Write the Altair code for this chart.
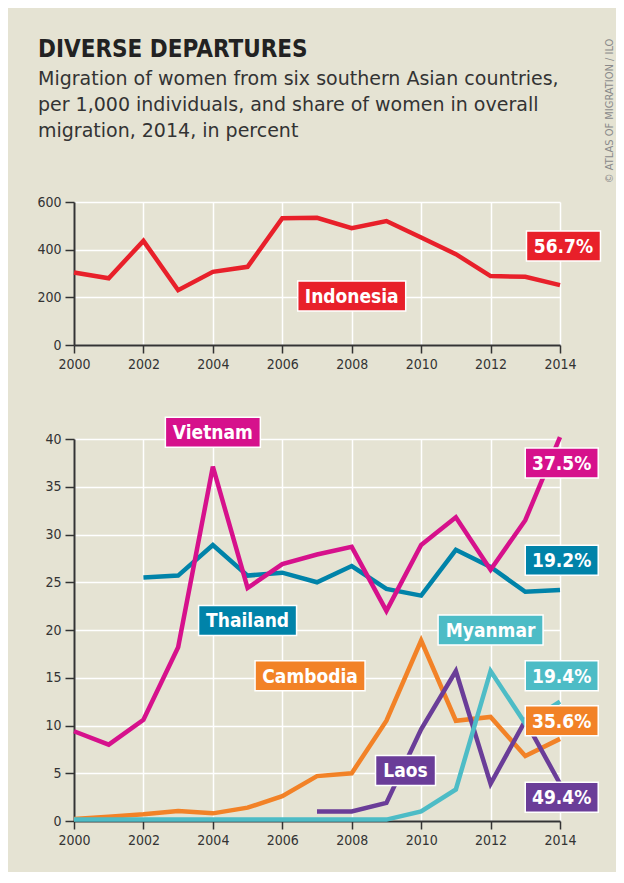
import altair as alt
import pandas as pd

# ---------------- data ----------------
years = [2000, 2001, 2002, 2003, 2004, 2005, 2006, 2007, 2008, 2009, 2010, 2011, 2012, 2013, 2014]
indonesia = [304, 280, 437, 230, 307, 328, 532, 534, 490, 520, 451, 381, 289, 286, 251]

vietnam = [9.4, 8.0, 10.6, 18.2, 37.1, 24.4, 26.9, 27.9, 28.7, 22.0, 28.9, 31.8, 26.3, 31.5, 40.2]
thailand_years = [2002, 2003, 2004, 2005, 2006, 2007, 2008, 2009, 2010, 2011, 2012, 2013, 2014]
thailand = [25.5, 25.7, 28.9, 25.7, 26.0, 25.0, 26.7, 24.3, 23.6, 28.4, 26.6, 24.0, 24.2]
cambodia = [0.2, 0.45, 0.7, 1.05, 0.8, 1.4, 2.6, 4.7, 5.0, 10.5, 18.9, 10.5, 10.9, 6.8, 8.6]
laos_years = [2007, 2008, 2009, 2010, 2011, 2012, 2013, 2014]
laos = [1.0, 1.0, 1.9, 9.6, 15.7, 3.9, 10.5, 3.9]
myanmar = [0.15, 0.15, 0.15, 0.15, 0.15, 0.15, 0.15, 0.15, 0.15, 0.15, 1.0, 3.3, 15.7, 10.2, 12.5]

top_ticks = [0, 200, 400, 600]
bottom_ticks = [0, 5, 10, 15, 20, 25, 30, 35, 40]

title_text = "DIVERSE DEPARTURES"
subtitle_lines = [
    "Migration of women from six southern Asian countries,",
    "per 1,000 individuals, and share of women in overall",
    "migration, 2014, in percent",
]
credit_text = "© ATLAS OF MIGRATION / ILO"

# label annotations: text, centre year, centre value, colour, box width (px)
top_labels = [
    ("Indonesia", 2008.0, 206, "#E8202A", 108),
    ("56.7%", 2014.1, 415, "#E8202A", 74),
]
bottom_labels = [
    ("Vietnam", 2004.0, 40.7, "#D6118C", 95),
    ("Thailand", 2005.0, 21.0, "#0083A9", 98),
    ("Myanmar", 2012.0, 20.0, "#4DBCC6", 105),
    ("Cambodia", 2006.8, 15.2, "#F28227", 110),
    ("Laos", 2009.55, 5.3, "#6A3D98", 60),
    ("37.5%", 2014.05, 37.5, "#D6118C", 73),
    ("19.2%", 2014.05, 27.3, "#0083A9", 73),
    ("19.4%", 2014.05, 15.2, "#4DBCC6", 73),
    ("35.6%", 2014.05, 10.5, "#F28227", 73),
    ("49.4%", 2014.05, 2.5, "#6A3D98", 73),
]

# ---------------- styling ----------------
W = 486
H_TOP = 143
H_BOT = 382
BOX_H = 30
FONT = "'DejaVu Sans Condensed', 'Liberation Sans Narrow', 'Roboto', sans-serif"
SUB_FONT = "'DejaVu Sans', 'Roboto', sans-serif"
BG = "#E5E3D3"
AX = "#333333"
LW = 4.5

x_scale = alt.Scale(domain=[2000, 2014], nice=False, zero=False)


def x_axis():
    return alt.Axis(
        values=years, format="d", title=None,
        labelExpr="datum.value % 2 == 0 ? datum.label : ''",
        tickSize=8, tickWidth=1.5, tickColor=AX,
        domainColor=AX, domainWidth=2,
        grid=True, gridColor="white", gridWidth=1.5,
        labelFont=FONT, labelFontSize=14, labelColor=AX, labelPadding=4,
        labelFlush=False,
    )


def y_axis(vals):
    return alt.Axis(
        values=vals, title=None, tickSize=9, tickWidth=1.5, tickColor=AX,
        domainColor=AX, domainWidth=2,
        grid=True, gridColor="white", gridWidth=1.5,
        labelFont=FONT, labelFontSize=14, labelColor=AX, labelPadding=4,
    )


def series_line(xs, ys, color, y_scale, ticks):
    df = pd.DataFrame({"year": xs, "value": ys})
    return alt.Chart(df).mark_line(
        color=color, strokeWidth=LW, strokeJoin="miter", strokeCap="butt"
    ).encode(
        x=alt.X("year:Q", scale=x_scale, axis=x_axis()),
        y=alt.Y("value:Q", scale=y_scale, axis=y_axis(ticks)),
    )


def label_layers(labels, y_scale, height, ymax):
    px_per_year = W / 14.0
    px_per_unit = height / ymax
    rows = []
    for t, cx, cy, col, w in labels:
        hw = (w / 2.0) / px_per_year
        hh = (BOX_H / 2.0) / px_per_unit
        rows.append({"t": t, "cx": cx, "cy": cy, "x1": cx - hw, "x2": cx + hw,
                     "y1": cy - hh, "y2": cy + hh, "col": col})
    df = pd.DataFrame(rows)
    boxes = alt.Chart(df).mark_rect(stroke="white", strokeWidth=1.5).encode(
        x=alt.X("x1:Q", scale=x_scale), x2="x2:Q",
        y=alt.Y("y1:Q", scale=y_scale), y2="y2:Q",
        color=alt.Color("col:N", scale=None),
    )
    texts = alt.Chart(df).mark_text(
        font=FONT, fontSize=19, fontWeight="bold", color="white",
        align="center", baseline="middle", dy=1,
    ).encode(
        x=alt.X("cx:Q", scale=x_scale), y=alt.Y("cy:Q", scale=y_scale), text="t:N"
    )
    return [boxes, texts]


def header_text(text, y, size, weight, color, font):
    return alt.Chart(pd.DataFrame({"t": [text]})).mark_text(
        font=font, fontSize=size, fontWeight=weight, color=color,
        align="left", baseline="alphabetic",
    ).encode(x=alt.value(-36), y=alt.value(y), text="t:N")


# ---------------- top panel ----------------
y_top = alt.Scale(domain=[0, 600], nice=False, zero=True)
top_line = series_line(years, indonesia, "#E8202A", y_top, top_ticks)

hdr = [header_text(title_text, -145, 24, "bold", "#222222", FONT)]
for ln, yy in zip(subtitle_lines, [-117, -91, -65]):
    hdr.append(header_text(ln, yy, 19, "normal", "#333333", SUB_FONT))

credit = alt.Chart(pd.DataFrame({"t": [credit_text]})).mark_text(
    font=FONT, fontSize=11, color="#8A8A8A", angle=270, align="center", baseline="middle"
).encode(x=alt.value(536), y=alt.value(-91), text="t:N")

top = alt.layer(
    top_line, *label_layers(top_labels, y_top, H_TOP, 600), *hdr, credit
).properties(width=W, height=H_TOP)

# ---------------- bottom panel ----------------
y_bot = alt.Scale(domain=[0, 40], nice=False, zero=True)
bot_layers = [
    series_line(thailand_years, thailand, "#0083A9", y_bot, bottom_ticks),
    series_line(years, cambodia, "#F28227", y_bot, bottom_ticks),
    series_line(laos_years, laos, "#6A3D98", y_bot, bottom_ticks),
    series_line(years, myanmar, "#4DBCC6", y_bot, bottom_ticks),
    series_line(years, vietnam, "#D6118C", y_bot, bottom_ticks),
]
bottom = alt.layer(*bot_layers, *label_layers(bottom_labels, y_bot, H_BOT, 40)).properties(
    width=W, height=H_BOT
)

chart = alt.vconcat(top, bottom, spacing=44).properties(
    background=BG,
    padding={"left": 28, "top": 29, "right": 0, "bottom": 24},
).configure_view(stroke="transparent")

chart.save("out.html", embed_options={"renderer": "svg", "actions": False})
